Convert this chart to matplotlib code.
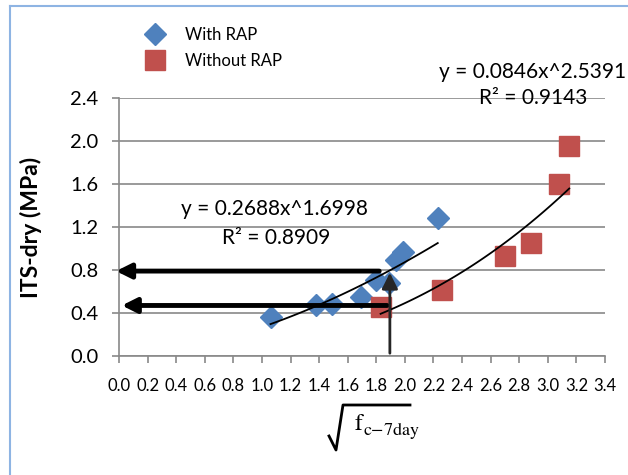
import numpy as np
import matplotlib.pyplot as plt
from matplotlib.lines import Line2D

plt.rcParams['font.family'] = ['Lato', 'DejaVu Sans']
plt.rcParams['mathtext.fontset'] = 'stix'

# with RAP
x_rap = [1.06, 1.38, 1.49, 1.69, 1.80, 1.89, 1.94, 1.99, 2.23]
y_rap = [0.36, 0.47, 0.48, 0.55, 0.71, 0.68, 0.89, 0.97, 1.28]
# without RAP
x_no = [1.83, 2.26, 2.70, 2.88, 3.08, 3.15]
y_no = [0.46, 0.61, 0.93, 1.05, 1.60, 1.95]

# power trend lines  y = a x^b
a_rap, b_rap = 0.2688, 1.6998
a_no, b_no = 0.0846, 2.5391

blue = '#4F81BD'
red = '#C0504D'
grid_c = '#898989'

W, H = 628, 475
fig = plt.figure(figsize=(6.28, 4.75), dpi=100)
ax = fig.add_axes([119/W, 1-356/H, (605-119)/W, (356-98)/H])

ax.set_xlim(0, 3.4)
ax.set_ylim(0, 2.4)
ax.set_yticks(np.arange(0, 2.41, 0.4))
ax.set_xticks(np.arange(0, 3.41, 0.2))
ax.set_yticklabels(['%.1f' % v for v in np.arange(0, 2.41, 0.4)], fontsize=14.5)
ax.set_xticklabels(['%.1f' % v for v in np.arange(0, 3.41, 0.2)], fontsize=12)
ax.yaxis.grid(True, color=grid_c, lw=1.2)
ax.set_axisbelow(True)
for s in ['top', 'right']:
    ax.spines[s].set_visible(False)
for s in ['left', 'bottom']:
    ax.spines[s].set_color(grid_c)
    ax.spines[s].set_linewidth(1.2)
ax.tick_params(axis='both', color=grid_c, width=1.2, length=5)
ax.tick_params(axis='y', pad=10)
ax.tick_params(axis='x', pad=11)

# trend lines
xr = np.linspace(min(x_rap), max(x_rap), 100)
ax.plot(xr, a_rap*xr**b_rap, color='black', lw=1.3, zorder=3)
xn = np.linspace(min(x_no), max(x_no), 100)
ax.plot(xn, a_no*xn**b_no, color='black', lw=1.3, zorder=3)

ax.plot(x_rap, y_rap, 'D', color=blue, ms=11.5, zorder=2, clip_on=False)
ax.plot(x_no, y_no, 's', color=red, ms=14, zorder=2, clip_on=False)

# reading arrows
ax.annotate('', xy=(-0.04, 0.79), xytext=(1.84, 0.79),
            arrowprops=dict(arrowstyle='-|>', color='black', lw=3.5, mutation_scale=22),
            annotation_clip=False, zorder=4)
ax.annotate('', xy=(0.0, 0.47), xytext=(1.895, 0.47),
            arrowprops=dict(arrowstyle='-|>', color='black', lw=3.5, mutation_scale=22),
            annotation_clip=False, zorder=4)
ax.annotate('', xy=(1.895, 0.80), xytext=(1.895, 0.0),
            arrowprops=dict(arrowstyle='-|>', color='#262626', lw=2, mutation_scale=24),
            annotation_clip=False, zorder=4)

# equations
ax.text(1.088, 1.367, 'y = 0.2688x^1.6998', fontsize=15, ha='center', va='center')
ax.text(1.098, 1.098, 'R² = 0.8909', fontsize=15, ha='center', va='center')
ax.text(2.89, 2.64, 'y = 0.0846x^2.5391', fontsize=15, ha='center', va='center', clip_on=False)
ax.text(2.90, 2.40, 'R² = 0.9143', fontsize=15, ha='center', va='center', clip_on=False)

ax.set_ylabel('ITS-dry (MPa)', fontsize=16.5, fontweight='bold')
ax.yaxis.set_label_coords((42-119)/486, 0.5)

# x label: radical drawn by hand, f and subscript as separate serif texts
rad_x = [329, 336, 343, 410]
rad_y = [436, 450, 405, 405]
fig.add_artist(Line2D([v/W for v in rad_x], [1-v/H for v in rad_y], color='black', lw=2))
fig.text(354/W, 1-430/H, r'$\mathrm{f}$', fontsize=17, ha='left', va='baseline')
fig.text(363/W, 1-435/H, r'$\mathrm{c{-}7day}$', fontsize=13, ha='left', va='baseline')

handles = [Line2D([], [], marker='D', color=blue, ls='', ms=11.5),
           Line2D([], [], marker='s', color=red, ls='', ms=14)]
fig.legend(handles, ['With RAP', 'Without RAP'], loc='upper left',
           bbox_to_anchor=(123/W, 1-12/H), frameon=False, fontsize=12,
           handletextpad=0.8, labelspacing=0.6)

# chart area border (top and left)
fig.add_artist(Line2D([10/W, 1], [1-6/H, 1-6/H], color='#8EB4E3', lw=1.5))
fig.add_artist(Line2D([10/W, 10/W], [0, 1-6/H], color='#8EB4E3', lw=1.5))

plt.savefig('out.png', dpi=100)
